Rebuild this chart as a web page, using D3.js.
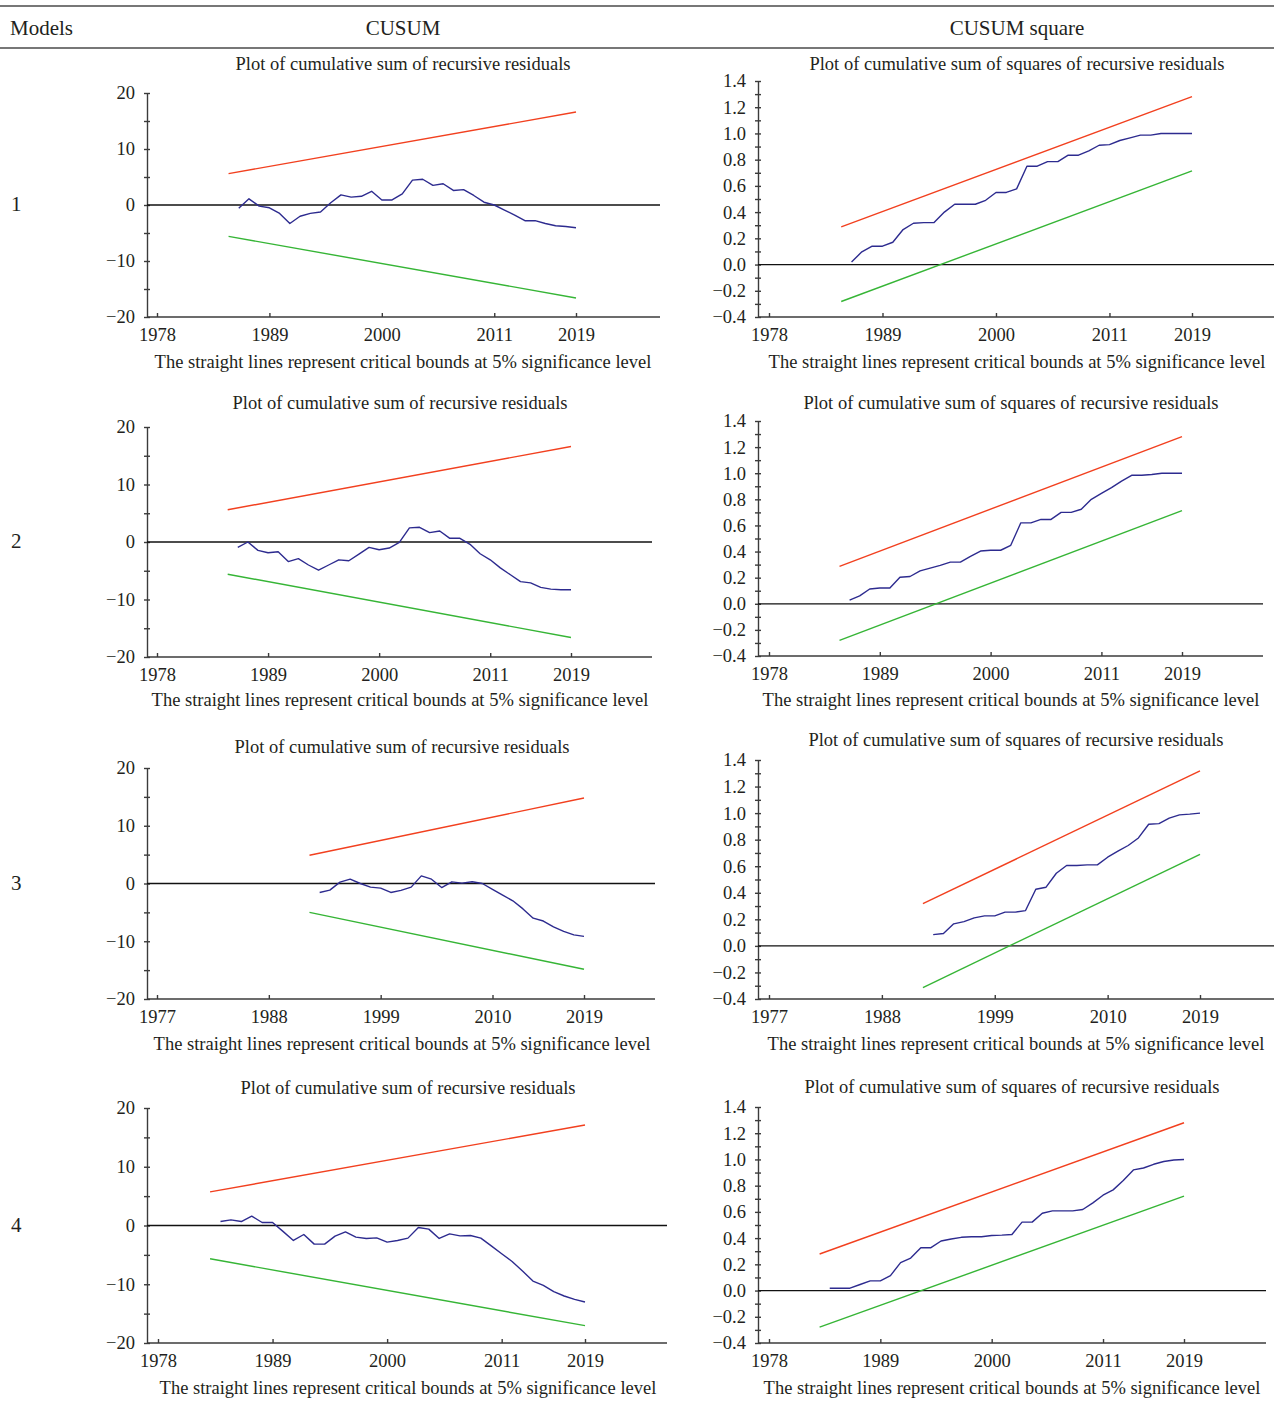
<!DOCTYPE html>
<html>
<head>
<meta charset="utf-8">
<script src="https://cdn.jsdelivr.net/npm/d3@7"></script>
<style>
  body { margin: 0; background: #fff; }
  svg { display: block; }
  text { font-family: "Liberation Serif", "DejaVu Serif", serif; fill: #231f20; }
</style>
</head>
<body>
<div id="canvas"></div>
<script>
"use strict"

/* table heads and row labels */
let modelLabels = ["1", "2", "3", "4"]
let columnHeads = ["CUSUM", "CUSUM square"]
let cusumTitle = "Plot of cumulative sum of recursive residuals"
let squareTitle = "Plot of cumulative sum of squares of recursive residuals"
let footNote = "The straight lines represent critical bounds at 5% significance level"

/* x tick labels (years) */
let yearTicksA = [1978, 1989, 2000, 2011, 2019]
let yearTicksB = [1977, 1988, 1999, 2010, 2019]

/* y ticks */
let cusumTicks = [-20, -10, 0, 10, 20]
let cusumMinor = [-15, -5, 5, 15]
let squareTicks = [-0.4, -0.2, 0, 0.2, 0.4, 0.6, 0.8, 1.0, 1.2, 1.4]
let squareMinor = [-0.3, -0.1, 0.1, 0.3, 0.5, 0.7, 0.9, 1.1, 1.3]

/* model 1 */
let cusum1Start = 1986
let cusum1 = [-0.6, 1.1, -0.2, -0.5, -1.5, -3.3, -2.0, -1.5, -1.25, 0.4, 1.8, 1.4, 1.55, 2.45, 0.9, 0.9, 2.0,
    4.45, 4.6, 3.5, 3.8, 2.6, 2.75, 1.7, 0.5, 0.0, -0.9, -1.8, -2.8, -2.8, -3.3, -3.7, -3.85, -4.05]
let cusum1Upper = [[1985, 5.6], [2019, 16.6]]
let cusum1Lower = [[1985, -5.6], [2019, -16.6]]
let square1Start = 1986
let square1 = [0.02, 0.097, 0.14, 0.14, 0.17, 0.267, 0.315, 0.32, 0.32, 0.40, 0.46, 0.46, 0.46, 0.49, 0.55, 0.55,
    0.577, 0.75, 0.75, 0.785, 0.785, 0.834, 0.834, 0.867, 0.91, 0.915, 0.946, 0.966, 0.987, 0.987, 1.0, 1.0, 1.0, 1.0]
let square1Upper = [[1985, 0.287], [2019, 1.281]]
let square1Lower = [[1985, -0.282], [2019, 0.714]]

/* model 2 */
let cusum2Start = 1986
let cusum2 = [-0.93, 0.0, -1.46, -1.86, -1.7, -3.4, -2.9, -4.0, -4.9, -4.0, -3.1, -3.26, -2.1, -0.93, -1.34, -1.05,
    -0.06, 2.45, 2.56, 1.63, 1.92, 0.64, 0.64, -0.4, -2.04, -3.1, -4.5, -5.7, -6.9, -7.1, -7.9, -8.2, -8.3, -8.3]
let cusum2Upper = [[1985, 5.6], [2019, 16.6]]
let cusum2Lower = [[1985, -5.6], [2019, -16.6]]
let square2Start = 1986
let square2 = [0.028, 0.06, 0.113, 0.121, 0.121, 0.203, 0.209, 0.252, 0.273, 0.294, 0.319, 0.319, 0.363, 0.404,
    0.41, 0.41, 0.448, 0.62, 0.62, 0.646, 0.646, 0.70, 0.70, 0.724, 0.80, 0.845, 0.89, 0.94, 0.984, 0.984, 0.99,
    1.0, 1.0, 1.0]
let square2Upper = [[1985, 0.287], [2019, 1.28]]
let square2Lower = [[1985, -0.28], [2019, 0.714]]

/* model 3 */
let cusum3Start = 1993
let cusum3 = [-1.55, -1.15, 0.23, 0.75, 0.0, -0.63, -0.8, -1.55, -1.2, -0.63, 1.32, 0.75, -0.7, 0.29, 0.06, 0.3,
    0.0, -1.0, -2.0, -3.0, -4.4, -6.0, -6.5, -7.5, -8.3, -8.9, -9.15]
let cusum3Upper = [[1992, 4.9], [2019, 14.8]]
let cusum3Lower = [[1992, -5.0], [2019, -14.85]]
let square3Start = 1993
let square3 = [0.085, 0.093, 0.166, 0.183, 0.211, 0.226, 0.226, 0.254, 0.254, 0.266, 0.427, 0.442, 0.547, 0.605,
    0.605, 0.61, 0.61, 0.668, 0.713, 0.756, 0.813, 0.916, 0.921, 0.962, 0.987, 0.992, 1.0]
let square3Upper = [[1992, 0.318], [2019, 1.318]]
let square3Lower = [[1992, -0.314], [2019, 0.69]]

/* model 4 */
let cusum4Start = 1984
let cusum4 = [0.68, 0.96, 0.68, 1.59, 0.51, 0.51, -1.0, -2.55, -1.53, -3.17, -3.17, -1.81, -1.08, -1.98, -2.21,
    -2.1, -2.83, -2.55, -2.15, -0.34, -0.62, -2.21, -1.42, -1.76, -1.7, -2.15, -3.46, -4.82, -6.12, -7.76, -9.46,
    -10.2, -11.27, -12.0, -12.58, -13.03]
let cusum4Upper = [[1983, 5.72], [2019, 17.1]]
let cusum4Lower = [[1983, -5.67], [2019, -17.05]]
let square4Start = 1984
let square4 = [0.018, 0.018, 0.018, 0.046, 0.074, 0.074, 0.114, 0.213, 0.248, 0.327, 0.327, 0.378, 0.393, 0.406,
    0.41, 0.41, 0.42, 0.423, 0.428, 0.522, 0.522, 0.59, 0.608, 0.608, 0.608, 0.618, 0.669, 0.727, 0.768, 0.839,
    0.92, 0.935, 0.963, 0.984, 0.996, 1.0]
let square4Upper = [[1983, 0.279], [2019, 1.28]]
let square4Lower = [[1983, -0.279], [2019, 0.72]]

/* colours */
let upperColour = "#f2401f"
let lowerColour = "#36b536"
let seriesColour = "#2d2b8f"
let axisColour = "#3b3b3b"

let textSize = 18.5

let drawing = d3.select("#canvas")
    .append("svg")
    .attr("width", 1274)
    .attr("height", 1410)

// table rules and heads
drawing.append("line") // top rule
    .attr("x1", 0).attr("x2", 1274).attr("y1", 6).attr("y2", 6)
    .attr("stroke", "#4a4a4a").attr("stroke-width", 1.4)
drawing.append("line") // rule under heads
    .attr("x1", 0).attr("x2", 1274).attr("y1", 48).attr("y2", 48)
    .attr("stroke", "#4a4a4a").attr("stroke-width", 1.4)
drawing.append("text")
    .attr("x", 10).attr("y", 28).attr("dy", "0.35em")
    .attr("font-size", 21)
    .text("Models")
let headX = [403, 1017]
columnHeads.forEach((h, i) => {
    drawing.append("text")
        .attr("x", headX[i]).attr("y", 28).attr("dy", "0.35em")
        .attr("text-anchor", "middle")
        .attr("font-size", 21)
        .text(h)
})
let rowLabelY = [204, 541, 883, 1225]
modelLabels.forEach((m, i) => {
    drawing.append("text")
        .attr("x", 11).attr("y", rowLabelY[i]).attr("dy", "0.35em")
        .attr("font-size", 21)
        .text(m)
})

// one entry per panel: where it sits and what it shows
let panels = [
    { ax: 147, t0: 157, t1: 576, right: 660, top: 93, bottom: 317, head: 64, foot: 362, mid: 403,
      ticks: yearTicksA, start: cusum1Start, values: cusum1, upper: cusum1Upper, lower: cusum1Lower, square: false },
    { ax: 758, t0: 769, t1: 1192, right: 1274, top: 81, bottom: 317, head: 64, foot: 362, mid: 1017,
      ticks: yearTicksA, start: square1Start, values: square1, upper: square1Upper, lower: square1Lower, square: true },
    { ax: 147, t0: 157, t1: 571, right: 652, top: 427, bottom: 657, head: 403, foot: 700, mid: 400,
      ticks: yearTicksA, start: cusum2Start, values: cusum2, upper: cusum2Upper, lower: cusum2Lower, square: false },
    { ax: 758, t0: 769, t1: 1182, right: 1263, top: 421, bottom: 656, head: 403, foot: 700, mid: 1011,
      ticks: yearTicksA, start: square2Start, values: square2, upper: square2Upper, lower: square2Lower, square: true },
    { ax: 147, t0: 157, t1: 584, right: 655, top: 768, bottom: 999, head: 747, foot: 1044, mid: 402,
      ticks: yearTicksB, start: cusum3Start, values: cusum3, upper: cusum3Upper, lower: cusum3Lower, square: false },
    { ax: 758, t0: 769, t1: 1200, right: 1274, top: 760, bottom: 999, head: 740, foot: 1044, mid: 1016,
      ticks: yearTicksB, start: square3Start, values: square3, upper: square3Upper, lower: square3Lower, square: true },
    { ax: 147, t0: 158, t1: 585, right: 667, top: 1108, bottom: 1343, head: 1088, foot: 1388, mid: 408,
      ticks: yearTicksA, start: cusum4Start, values: cusum4, upper: cusum4Upper, lower: cusum4Lower, square: false },
    { ax: 758, t0: 769, t1: 1184, right: 1266, top: 1107, bottom: 1343, head: 1087, foot: 1388, mid: 1012,
      ticks: yearTicksA, start: square4Start, values: square4, upper: square4Upper, lower: square4Lower, square: true }
]

function drawPanel(p) {
    let g = drawing.append("g")
    let x = d3.scaleLinear()
        .domain([p.ticks[0], p.ticks[p.ticks.length - 1]])
        .range([p.t0, p.t1])
    let y = d3.scaleLinear()
        .domain(p.square ? [-0.4, 1.4] : [-20, 20])
        .range([p.bottom, p.top])
    let fmt = p.square ? d3.format(".1f") : d3.format("d")

    // title and note
    g.append("text")
        .attr("x", p.mid).attr("y", p.head).attr("dy", "0.35em")
        .attr("text-anchor", "middle").attr("font-size", textSize)
        .text(p.square ? squareTitle : cusumTitle)
    g.append("text")
        .attr("x", p.mid).attr("y", p.foot).attr("dy", "0.35em")
        .attr("text-anchor", "middle").attr("font-size", textSize)
        .text(footNote)

    // y axis, major ticks with labels
    let yAxis = g.append("g")
        .attr("transform", `translate(${p.ax},0)`)
        .call(d3.axisLeft(y)
            .tickValues(p.square ? squareTicks : cusumTicks)
            .tickFormat(fmt)
            .tickSizeInner(3).tickSizeOuter(0).tickPadding(9))
    yAxis.selectAll(".tick line").attr("x2", 3).attr("x1", -3)
    // minor ticks
    let yMinor = g.append("g")
        .attr("transform", `translate(${p.ax},0)`)
        .call(d3.axisLeft(y)
            .tickValues(p.square ? squareMinor : cusumMinor)
            .tickFormat("")
            .tickSizeInner(3).tickSizeOuter(0))
    yMinor.select(".domain").remove()
    yMinor.selectAll(".tick line").attr("x2", 3).attr("x1", -3)

    // x axis
    let xAxis = g.append("g")
        .attr("transform", `translate(0,${p.bottom})`)
        .call(d3.axisBottom(x)
            .tickValues(p.ticks)
            .tickFormat(d3.format("d"))
            .tickSizeInner(4).tickSizeOuter(0).tickPadding(6))
    xAxis.select(".domain").remove()
    xAxis.selectAll(".tick line").attr("y2", -4)
    xAxis.selectAll(".tick text").attr("y", 18).attr("dy", "0.35em")
    g.append("line") // x axis line, runs past the last label
        .attr("x1", p.ax).attr("x2", p.right)
        .attr("y1", p.bottom).attr("y2", p.bottom)
        .attr("stroke", axisColour).attr("stroke-width", 1.4)

    for (let a of [xAxis, yAxis, yMinor]) {
        a.attr("font-family", null).attr("font-size", textSize)
        a.selectAll("line, path").attr("stroke", axisColour).attr("stroke-width", 1.4)
        a.selectAll("text").attr("fill", "#231f20")
    }

    // zero line
    g.append("line")
        .attr("x1", p.ax).attr("x2", p.right)
        .attr("y1", y(0)).attr("y2", y(0))
        .attr("stroke", "#111").attr("stroke-width", 1.3)

    let line = d3.line()
        .x(d => x(d[0]))
        .y(d => y(d[1]))

    g.append("path") // upper critical bound
        .attr("d", line(p.upper))
        .attr("fill", "none").attr("stroke", upperColour).attr("stroke-width", 1.4)
    g.append("path") // lower critical bound
        .attr("d", line(p.lower))
        .attr("fill", "none").attr("stroke", lowerColour).attr("stroke-width", 1.4)
    g.append("path") // statistic
        .attr("d", line(p.values.map((v, i) => [p.start + i, v])))
        .attr("fill", "none").attr("stroke", seriesColour).attr("stroke-width", 1.4)
        .attr("stroke-linejoin", "round")
}

panels.forEach(drawPanel)
</script>
</body>
</html>
